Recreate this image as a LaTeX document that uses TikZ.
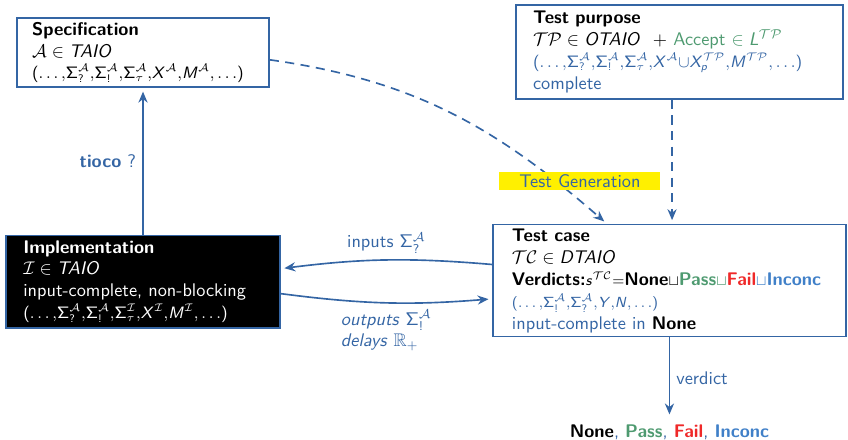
\documentclass[tikz,border=0pt]{standalone}
\usepackage{amssymb}
\usetikzlibrary{arrows.meta,positioning}

\renewcommand{\familydefault}{\sfdefault}

% sans serif maths, as on the slides
\DeclareSymbolFont{operators}{OT1}{cmss}{m}{n}
\DeclareSymbolFont{sfletters}{OT1}{cmss}{m}{sl}
\DeclareMathSymbol{A}{\mathalpha}{sfletters}{`A}
\DeclareMathSymbol{D}{\mathalpha}{sfletters}{`D}
\DeclareMathSymbol{I}{\mathalpha}{sfletters}{`I}
\DeclareMathSymbol{L}{\mathalpha}{sfletters}{`L}
\DeclareMathSymbol{M}{\mathalpha}{sfletters}{`M}
\DeclareMathSymbol{N}{\mathalpha}{sfletters}{`N}
\DeclareMathSymbol{O}{\mathalpha}{sfletters}{`O}
\DeclareMathSymbol{T}{\mathalpha}{sfletters}{`T}
\DeclareMathSymbol{X}{\mathalpha}{sfletters}{`X}
\DeclareMathSymbol{Y}{\mathalpha}{sfletters}{`Y}
\DeclareMathSymbol{p}{\mathalpha}{sfletters}{`p}
\DeclareMathSymbol{s}{\mathalpha}{sfletters}{`s}

\definecolor{flowblue}{RGB}{52,101,164}
\definecolor{passgreen}{RGB}{78,154,112}
\definecolor{failred}{RGB}{239,41,41}
\definecolor{inconcblue}{RGB}{64,128,200}
\definecolor{genyellow}{RGB}{255,240,0}

\begin{document}
\begin{tikzpicture}[
    artbox/.style={rectangle, draw=flowblue, line width=0.9pt, align=left,
        inner xsep=0.33cm, inner ysep=2pt},
    flowarrow/.style={-{Stealth[length=6pt,width=5pt]}, flowblue, line width=0.9pt,
        shorten >=2pt},
    dasharrow/.style={flowarrow, dash pattern=on 5pt off 3.5pt},
]
\useasboundingbox (0,0) rectangle (16.29,-8.45);

% ===== Artefacts =====
\node[artbox, text width=4.26cm, inner xsep=0.29cm, minimum height=1.33cm] (spec) at (2.747,-1.009)
    {\textbf{Specification}\\
     $\mathcal{A} \in TAIO$\\
     {\small $(\ldots{,}\Sigma_?^{\mathcal{A}}{,}\Sigma_!^{\mathcal{A}}{,}\Sigma_\tau^{\mathcal{A}}{,}X^{\mathcal{A}}{,}M^{\mathcal{A}}{,}\ldots)$}};

\node[artbox, text width=5.62cm, minimum height=1.81cm] (tp) at (13.05,-0.999)
    {\textbf{Test purpose}\\
     $\mathcal{TP} \in OTAIO$ \ + {\color{passgreen}Accept $\in L^{\mathcal{TP}}$}\\
     {\small\color{flowblue}$(\ldots{,}\Sigma_?^{\mathcal{A}}{,}\Sigma_!^{\mathcal{A}}{,}\Sigma_\tau^{\mathcal{A}}{,}X^{\mathcal{A}}{\cup}X_p^{\mathcal{TP}}{,}M^{\mathcal{TP}}{,}\ldots)$}\\
     {\color{flowblue}complete}};

\node[artbox, fill=black, text=white, text width=4.6cm, minimum height=1.77cm,
    below=2.82cm of spec] (impl)
    {\textbf{Implementation}\\
     $\mathcal{I} \in TAIO$\\
     input-complete, non-blocking\\
     {\small $(\ldots{,}\Sigma_?^{\mathcal{A}}{,}\Sigma_!^{\mathcal{A}}{,}\Sigma_\tau^{\mathcal{I}}{,}X^{\mathcal{I}}{,}M^{\mathcal{I}}{,}\ldots)$}};

\node[artbox, text width=6.05cm, inner xsep=0.365cm, minimum height=2.15cm,
    below=2.38cm of tp, xshift=-0.19cm] (tc)
    {\textbf{Test case}\\
     $\mathcal{TC} \in DTAIO$\\
     \textbf{Verdicts:}{\footnotesize$s^{\mathcal{TC}}{=}$}\textbf{None}{\footnotesize$\sqcup$}%
     {\color{passgreen}\textbf{Pass}{\footnotesize$\sqcup$}}%
     {\color{failred}\textbf{Fail}}{\color{inconcblue}{\footnotesize$\sqcup$}\textbf{Inconc}}\\
     {\footnotesize\color{flowblue}$(\ldots{,}\Sigma_!^{\mathcal{A}}{,}\Sigma_?^{\mathcal{A}}{,}Y{,}N{,}\ldots)$}\\
     {\color{flowblue}input-complete in} \textbf{None}};

\node[below=1.55cm of tc] (verdicts)
    {\textbf{None}{\color{flowblue},} {\color{passgreen}\textbf{Pass}}{\color{flowblue},}
     {\color{failred}\textbf{Fail}}{\color{flowblue},} {\color{inconcblue}\textbf{Inconc}}};

% ===== Relations =====
\draw[flowarrow] (impl) -- node[left, text=flowblue] (tioco) {\textbf{tioco} ?} (spec);

\draw[flowarrow] ([yshift=0.31cm]tc.west) to[bend right=6]
    node[above, text=flowblue] (inputs) {inputs $\Sigma_?^{\mathcal{A}}$}
    ([yshift=0.25cm]impl.east);
\draw[flowarrow] ([yshift=-0.23cm]impl.east) to[bend right=6]
    node[below, align=left, text=flowblue] (outputs)
    {\textit{outputs} $\Sigma_!^{\mathcal{A}}$\\ \textit{delays} $\mathbb{R}_+$}
    ([yshift=-0.35cm]tc.west);

\draw[flowarrow] (tc.south -| verdicts.north) --
    node[right, text=flowblue] (verdictlbl) {verdict} (verdicts.north);

% test generation
\draw[dasharrow] ([yshift=-0.14cm]spec.east) to[out=-8, in=139] ([xshift=-1.2cm]tc.north);
\draw[dasharrow] ([xshift=0.05cm]tp.south -| tc.north) -- ([xshift=0.05cm]tc.north);
\node[fill=genyellow, text=flowblue, inner sep=0pt, minimum width=3.09cm,
    minimum height=0.35cm] (testgen) at (11.14,-3.48) {Test Generation};

\end{tikzpicture}
\end{document}
